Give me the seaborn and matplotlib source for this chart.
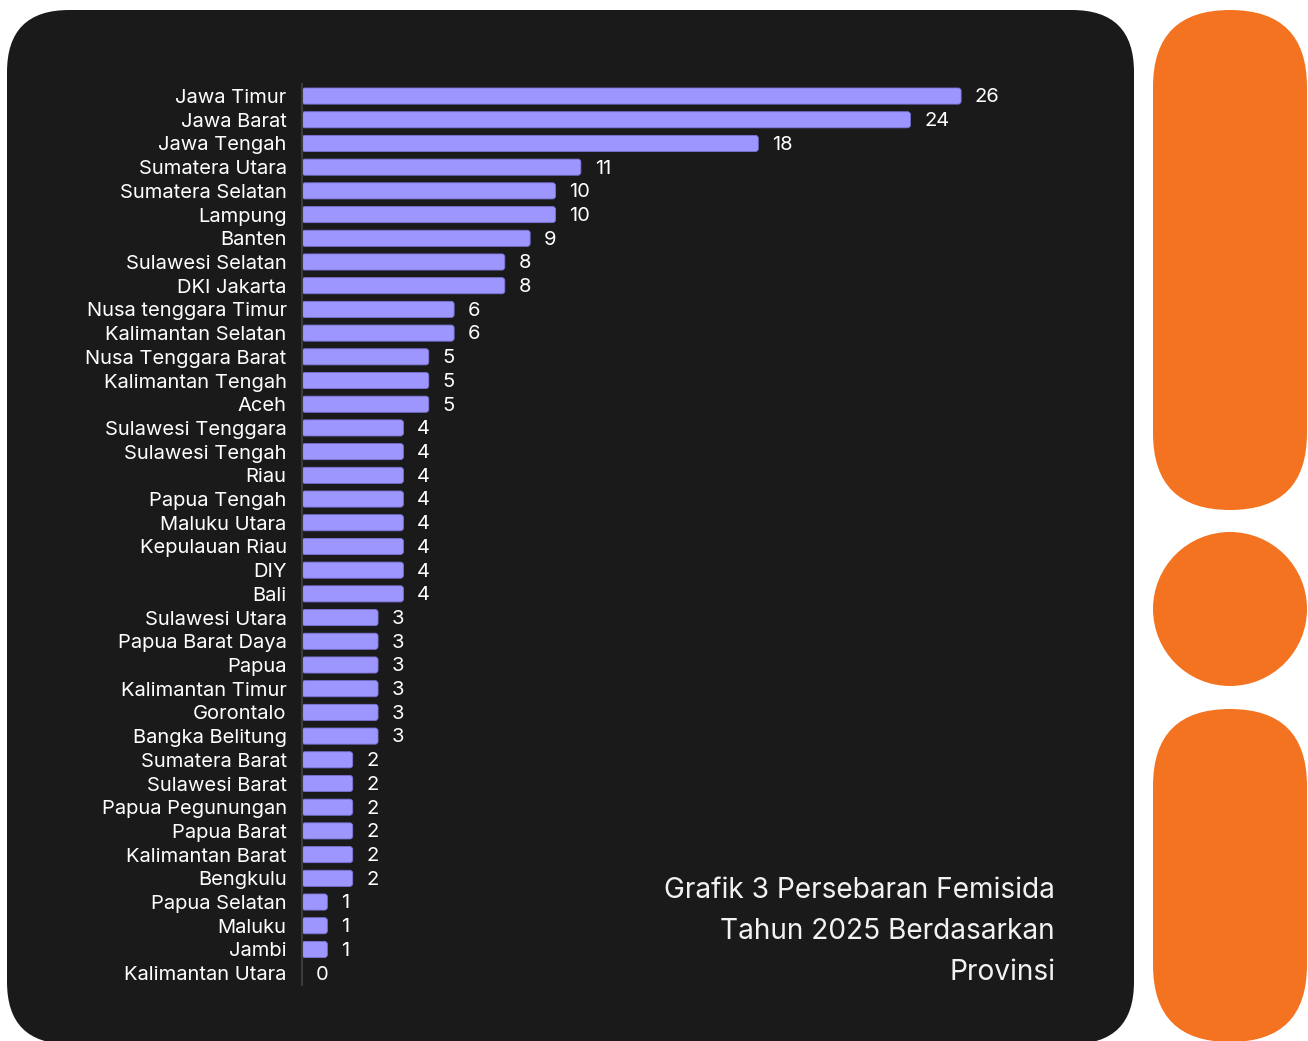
import matplotlib
matplotlib.use("Agg")
import matplotlib.pyplot as plt
import seaborn as sns
import pandas as pd
from matplotlib.patches import FancyBboxPatch, Circle

provinces = ["Jawa Timur", "Jawa Barat", "Jawa Tengah", "Sumatera Utara", "Sumatera Selatan",
             "Lampung", "Banten", "Sulawesi Selatan", "DKI Jakarta", "Nusa tenggara Timur",
             "Kalimantan Selatan", "Nusa Tenggara Barat", "Kalimantan Tengah", "Aceh",
             "Sulawesi Tenggara", "Sulawesi Tengah", "Riau", "Papua Tengah", "Maluku Utara",
             "Kepulauan Riau", "DIY", "Bali", "Sulawesi Utara", "Papua Barat Daya", "Papua",
             "Kalimantan Timur", "Gorontalo", "Bangka Belitung", "Sumatera Barat",
             "Sulawesi Barat", "Papua Pegunungan", "Papua Barat", "Kalimantan Barat",
             "Bengkulu", "Papua Selatan", "Maluku", "Jambi", "Kalimantan Utara"]
counts = [26, 24, 18, 11, 10, 10, 9, 8, 8, 6, 6, 5, 5, 5, 4, 4, 4, 4, 4, 4, 4, 4,
          3, 3, 3, 3, 3, 3, 2, 2, 2, 2, 2, 2, 1, 1, 1, 0]
title_lines = ["Grafik 3 Persebaran Femisida", "Tahun 2025 Berdasarkan", "Provinsi"]

df = pd.DataFrame({"provinsi": provinces, "jumlah": counts})

sns.set_theme(style="dark")
plt.rcParams["font.family"] = ["Inter", "DejaVu Sans"]

W, H = 1308, 1041
fig = plt.figure(figsize=(W / 100, H / 100), dpi=100, facecolor="white")

# background decoration layer in pixel coordinates
bg = fig.add_axes([0, 0, 1, 1], zorder=0)
bg.set_xlim(0, W)
bg.set_ylim(H, 0)
bg.axis("off")
bg.add_patch(FancyBboxPatch((7, 10), 1127, 1034, boxstyle="round,pad=0,rounding_size=62",
                            facecolor="#1a1a1a", edgecolor="none"))
orange = "#f37321"
bg.add_patch(FancyBboxPatch((1153, 10), 154, 500, boxstyle="round,pad=0,rounding_size=77",
                            facecolor=orange, edgecolor="none"))
bg.add_patch(Circle((1230, 609), 77, facecolor=orange, edgecolor="none"))
bg.add_patch(FancyBboxPatch((1153, 709), 154, 333, boxstyle="round,pad=0,rounding_size=77",
                            facecolor=orange, edgecolor="none"))

for i, line in enumerate(title_lines):
    bg.text(1055, 890 + i * 41.5, line, ha="right", va="center", color="#f2f2f2",
            fontsize=20.2)

# chart axes
left = 302 / W
right = (302 + 30 * 25.35) / W
top = 1 - 84.2 / H
bottom = 1 - 985 / H
ax = fig.add_axes([left, bottom, right - left, top - bottom], zorder=1)
ax.set_facecolor("none")

sns.barplot(data=df, y="provinsi", x="jumlah", orient="h", color="#9e96ff",
            width=0.68, ax=ax, saturation=1)

# round bar corners
bars = list(ax.patches)
for p in bars:
    x0, y0, w, h = p.get_x(), p.get_y(), p.get_width(), p.get_height()
    p.set_visible(False)
    if w <= 0:
        continue
    fb = FancyBboxPatch((x0, y0), w, h, boxstyle="round,pad=0,rounding_size=0.12",
                        facecolor="#9e96ff", edgecolor="#7a72d6", linewidth=0.6)
    ax.add_patch(fb)

ax.set_xlim(0, 30)
ax.set_ylim(len(provinces) - 0.5, -0.5)
ax.set_xlabel("")
ax.set_ylabel("")
ax.set_xticks([])
ax.tick_params(axis="y", length=0, pad=11, labelsize=14.5, labelcolor="white")
for lab in ax.get_yticklabels():
    lab.set_color("white")
for s in ["top", "right", "bottom"]:
    ax.spines[s].set_visible(False)
ax.spines["left"].set_color("#3a3a3a")
ax.spines["left"].set_linewidth(1.5)
ax.grid(False)

for i, v in enumerate(counts):
    ax.annotate(str(v), xy=(v, i), xytext=(10, -1), textcoords="offset points",
                ha="left", va="center", color="white", fontsize=14.5)

fig.savefig("out.png", dpi=100, facecolor="white")
